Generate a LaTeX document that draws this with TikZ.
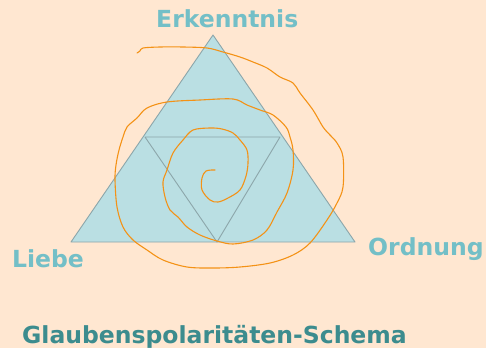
\documentclass[tikz,border=0pt]{standalone}
\usepackage{fontspec}
\setmainfont{DejaVu Sans}
\definecolor{bgc}{RGB}{255,231,209}
\definecolor{trifill}{RGB}{186,223,227}
\definecolor{tristroke}{RGB}{140,166,170}
\definecolor{labc}{RGB}{115,191,199}
\definecolor{titc}{RGB}{60,140,142}
\definecolor{spir}{RGB}{244,146,22}
\tikzset{
  lab/.style={anchor=base west, inner sep=0pt, text=labc, font=\bfseries\fontsize{23.5}{27}\selectfont},
  titl/.style={anchor=base west, inner sep=0pt, text=titc, font=\bfseries\fontsize{23.5}{27}\selectfont},
  tri/.style={fill=trifill, draw=tristroke, line width=0.9pt, line join=round},
  inner/.style={draw=tristroke, line width=0.9pt, line join=round},
  spiral/.style={draw=spir, line width=1.1pt, line cap=round, line join=round}
}
\begin{document}
\begin{tikzpicture}[x=1pt,y=-1pt]
\fill[bgc] (0,0) rectangle (486,348);
\useasboundingbox (0,0) rectangle (486,348);
% outer triangle
\coordinate (A) at (213,35);
\coordinate (B) at (71,242);
\coordinate (C) at (355,242);
\draw[tri] (A) -- (B) -- (C) -- cycle;
% inner inverted triangle
\coordinate (P) at (145,137);
\coordinate (Q) at (280,137);
\coordinate (R) at (217,242);
\draw[inner] (P) -- (Q) -- (R) -- cycle;
% spiral
\draw[spiral] plot[smooth, tension=0.55] coordinates {
 (215,170) (206,171) (202,178) (202,190) (210,200) (218,202) (228,198) (240,190)
 (246,176) (248,163) (247,150) (240,140) (233,133) (222,129) (210,128) (193,130)
 (183,140) (173,153) (167,170) (163,182) (165,197) (170,210) (178,217) (187,227)
 (200,235) (217,241) (233,244) (253,240) (267,230) (277,212) (287,193) (293,170)
 (293,150) (290,137) (286,127) (273,115) (260,110) (247,105) (233,99) (200,100)
 (167,102) (147,108) (137,118) (127,127) (123,137) (119,150) (116,165) (115,180)
 (117,207) (123,227) (133,240) (147,250) (163,260) (187,267) (213,268) (240,267)
 (270,263) (293,255) (310,243) (327,220) (337,203) (343,187) (343,157) (337,143)
 (330,135) (323,127) (313,110) (300,93) (293,83) (280,77) (267,68) (253,62)
 (240,57) (223,52) (207,48) (183,47) (160,47) (143,48) (140,51) (137,53)
};
% labels
\node[lab] (erk) at (156,27) {Erkenntnis};
\node[lab] (lie) at (12,267) {Liebe};
\node[lab] (ord) at (368,255) {Ordnung};
\node[titl] (tit) at (22,343) {Glaubenspolaritäten-Schema};
\end{tikzpicture}
\end{document}
